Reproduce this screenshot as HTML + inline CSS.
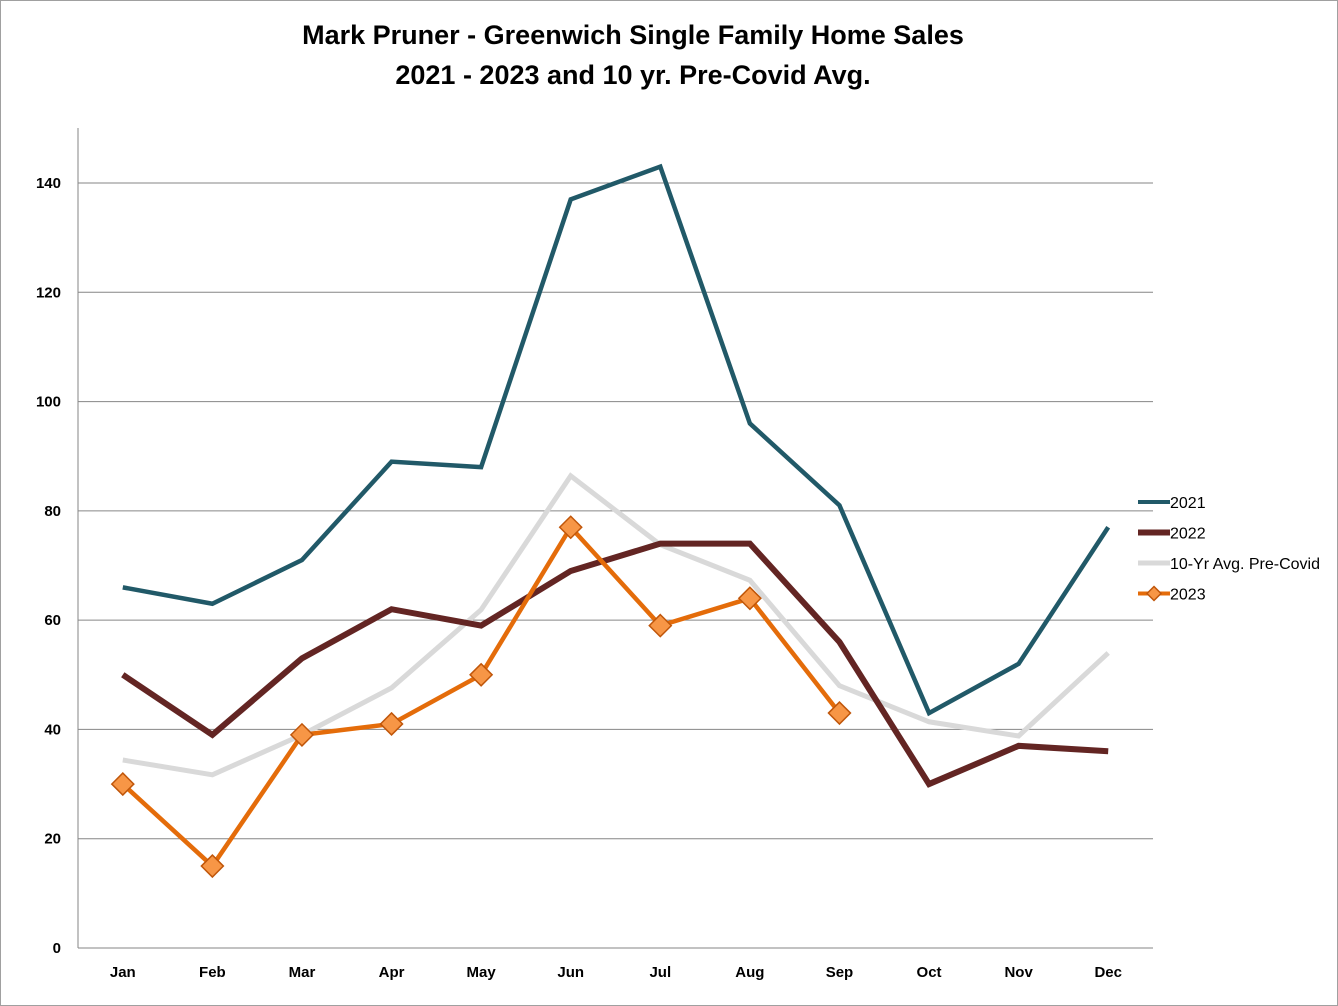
<!DOCTYPE html>
<html><head><meta charset="utf-8"><style>
html,body{margin:0;padding:0;background:#fff;}
svg{display:block;font-family:"Liberation Sans",Arial,sans-serif;}
</style></head><body>
<svg id="chart" width="1338" height="1006" viewBox="0 0 1338 1006">
<rect x="0.5" y="0.5" width="1337" height="1005" fill="#fff" stroke="#a0a0a0"/>
<text x="633" y="44" text-anchor="middle" font-size="27" font-weight="bold" fill="#000">Mark Pruner - Greenwich Single Family Home Sales</text>
<text x="633" y="84" text-anchor="middle" font-size="27" font-weight="bold" fill="#000">2021 - 2023 and 10 yr. Pre-Covid Avg.</text>
<g id="grid"></g><g id="axes"></g><g id="series"></g><g id="legend"></g>
</svg>
<script>
const months=["Jan","Feb","Mar","Apr","May","Jun","Jul","Aug","Sep","Oct","Nov","Dec"];
const yTicks=[0,20,40,60,80,100,120,140];
const s2021=[66,63,71,89,88,137,143,96,81,43,52,77];
const s2022=[50,39,53,62,59,69,74,74,56,30,37,36];
const sAvg=[34.4,31.7,39,47.6,61.9,86.4,73.8,67.3,48,41.4,38.8,54];
const s2023=[30,15,39,41,50,77,59,64,43];
const NS="http://www.w3.org/2000/svg";
const L=78,R=1153,T=128,B=948;
const x=i=>L+(R-L)/12*(i+0.5);
const y=v=>B-v*(B-183)/140;
function mk(tag,attrs,parent){const e=document.createElementNS(NS,tag);for(const k in attrs)e.setAttribute(k,attrs[k]);parent.appendChild(e);return e;}
const grid=document.getElementById('grid'),axes=document.getElementById('axes'),ser=document.getElementById('series'),leg=document.getElementById('legend');
yTicks.forEach(t=>{
 if(t>0){const g=mk('line',{x1:L,x2:R,y1:y(t),y2:y(t),stroke:'#868686','stroke-width':1},grid);
 
 }
 const tx=mk('text',{x:61,y:y(t)+5,'text-anchor':'end','font-size':15,'font-weight':'bold'},axes);tx.textContent=t;
 
 
});
const ya=mk('line',{x1:L,x2:L,y1:T,y2:B,stroke:'#868686'},axes);


const xa=mk('line',{x1:L,x2:R,y1:B,y2:B,stroke:'#868686'},axes);


months.forEach((m,i)=>{const tx=mk('text',{x:x(i),y:977,'text-anchor':'middle','font-size':15,'font-weight':'bold'},axes);tx.textContent=m;
 
 });
function line(data,color,w,name){const p=mk('polyline',{points:data.map((v,i)=>x(i)+','+y(v)).join(' '),fill:'none',stroke:color,'stroke-width':w,'stroke-linejoin':'miter'},ser);
 
 }
line(sAvg,'#d9d9d9',5,'series-10yr-avg');
line(s2022,'#632523',6,'series-2022');
line(s2021,'#215968',4.5,'series-2021');
line(s2023,'#e46c0a',4.5,'series-2023');
function diamond(cx,cy,r,parent){return mk('polygon',{points:`${cx},${cy-r} ${cx+r},${cy} ${cx},${cy+r} ${cx-r},${cy}`,fill:'#f79646',stroke:'#c0560a','stroke-width':1.5},parent);}
s2023.forEach((v,i)=>{const d=diamond(x(i),y(v),11,ser);
 
 });
const items=[["2021",'#215968',4],["2022",'#632523',6],["10-Yr Avg. Pre-Covid",'#d9d9d9',5],["2023",'#e46c0a',4]];
items.forEach((it,k)=>{const yy=502+k*30.5;
 const g=mk('g',{},leg);
 
 
 mk('line',{x1:1138,x2:1170,y1:yy,y2:yy,stroke:it[1],'stroke-width':it[2]},g);
 if(it[0]==="2023")diamond(1154,yy,7,g);
 const t=mk('text',{x:1170,y:yy+6,'font-size':16,fill:'#000'},g);t.textContent=it[0];
});
</script>
</body></html>
